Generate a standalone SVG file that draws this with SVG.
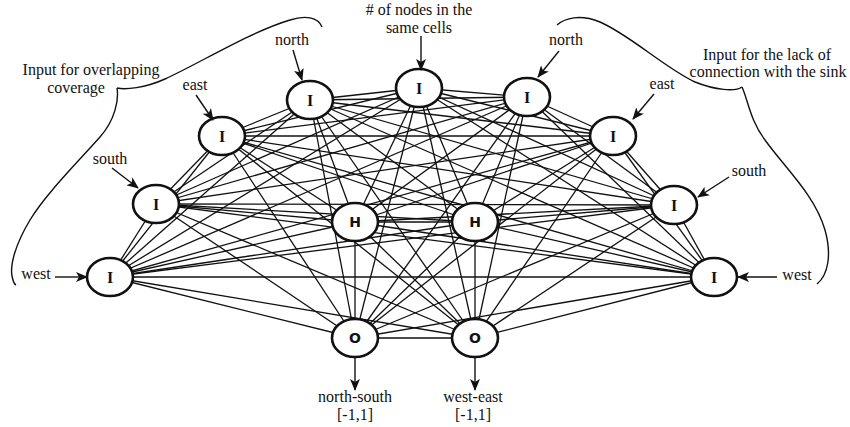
<svg xmlns="http://www.w3.org/2000/svg" width="850" height="427" viewBox="0 0 850 427">
  <style>
    .edge { stroke: #111; stroke-width: 1.3; fill: none; }
    .node ellipse { fill: #fff; stroke: #111; stroke-width: 2.6; }
    .lblI { font-family: 'Liberation Serif', 'Times New Roman', 'DejaVu Serif', 'Noto Serif', serif; font-weight: bold; font-size: 16px; fill: #111; text-anchor: middle; }
    .lblH { font-family: 'DejaVu Sans', sans-serif; font-weight: bold; font-size: 14px; fill: #111; text-anchor: middle; }
    .txt { font-family: 'Liberation Serif', 'Times New Roman', 'DejaVu Serif', 'Noto Serif', serif; font-size: 16px; fill: #111; text-anchor: middle; }
    .arrow { stroke: #111; stroke-width: 1.4; fill: none; marker-end: url(#head); }
    .brace { stroke: #111; stroke-width: 1.4; fill: none; }
  </style>
  <defs>
    <marker id="head" viewBox="0 0 12 10" refX="11" refY="5" markerWidth="12" markerHeight="10" markerUnits="userSpaceOnUse" orient="auto">
      <path d="M0,0 L12,5 L0,10 L3,5 z" fill="#111"/>
    </marker>
  </defs>
  <rect width="850" height="427" fill="#fff"/>

  <!-- connectors: every node is linked to every other node -->
  <g id="connectors" class="edge">
    <line x1="110" y1="277" x2="156" y2="204"/>
    <line x1="110" y1="277" x2="222" y2="136"/>
    <line x1="110" y1="277" x2="310" y2="100"/>
    <line x1="110" y1="277" x2="419" y2="88"/>
    <line x1="110" y1="277" x2="527" y2="97"/>
    <line x1="110" y1="277" x2="613" y2="136"/>
    <line x1="110" y1="277" x2="674" y2="205"/>
    <line x1="110" y1="277" x2="714" y2="277"/>
    <line x1="110" y1="277" x2="355" y2="222"/>
    <line x1="110" y1="277" x2="475" y2="222"/>
    <line x1="110" y1="277" x2="355" y2="338"/>
    <line x1="110" y1="277" x2="475" y2="338"/>
    <line x1="156" y1="204" x2="222" y2="136"/>
    <line x1="156" y1="204" x2="310" y2="100"/>
    <line x1="156" y1="204" x2="419" y2="88"/>
    <line x1="156" y1="204" x2="527" y2="97"/>
    <line x1="156" y1="204" x2="613" y2="136"/>
    <line x1="156" y1="204" x2="674" y2="205"/>
    <line x1="156" y1="204" x2="714" y2="277"/>
    <line x1="156" y1="204" x2="355" y2="222"/>
    <line x1="156" y1="204" x2="475" y2="222"/>
    <line x1="156" y1="204" x2="355" y2="338"/>
    <line x1="156" y1="204" x2="475" y2="338"/>
    <line x1="222" y1="136" x2="310" y2="100"/>
    <line x1="222" y1="136" x2="419" y2="88"/>
    <line x1="222" y1="136" x2="527" y2="97"/>
    <line x1="222" y1="136" x2="613" y2="136"/>
    <line x1="222" y1="136" x2="674" y2="205"/>
    <line x1="222" y1="136" x2="714" y2="277"/>
    <line x1="222" y1="136" x2="355" y2="222"/>
    <line x1="222" y1="136" x2="475" y2="222"/>
    <line x1="222" y1="136" x2="355" y2="338"/>
    <line x1="222" y1="136" x2="475" y2="338"/>
    <line x1="310" y1="100" x2="419" y2="88"/>
    <line x1="310" y1="100" x2="527" y2="97"/>
    <line x1="310" y1="100" x2="613" y2="136"/>
    <line x1="310" y1="100" x2="674" y2="205"/>
    <line x1="310" y1="100" x2="714" y2="277"/>
    <line x1="310" y1="100" x2="355" y2="222"/>
    <line x1="310" y1="100" x2="475" y2="222"/>
    <line x1="310" y1="100" x2="355" y2="338"/>
    <line x1="310" y1="100" x2="475" y2="338"/>
    <line x1="419" y1="88" x2="527" y2="97"/>
    <line x1="419" y1="88" x2="613" y2="136"/>
    <line x1="419" y1="88" x2="674" y2="205"/>
    <line x1="419" y1="88" x2="714" y2="277"/>
    <line x1="419" y1="88" x2="355" y2="222"/>
    <line x1="419" y1="88" x2="475" y2="222"/>
    <line x1="419" y1="88" x2="355" y2="338"/>
    <line x1="419" y1="88" x2="475" y2="338"/>
    <line x1="527" y1="97" x2="613" y2="136"/>
    <line x1="527" y1="97" x2="674" y2="205"/>
    <line x1="527" y1="97" x2="714" y2="277"/>
    <line x1="527" y1="97" x2="355" y2="222"/>
    <line x1="527" y1="97" x2="475" y2="222"/>
    <line x1="527" y1="97" x2="355" y2="338"/>
    <line x1="527" y1="97" x2="475" y2="338"/>
    <line x1="613" y1="136" x2="674" y2="205"/>
    <line x1="613" y1="136" x2="714" y2="277"/>
    <line x1="613" y1="136" x2="355" y2="222"/>
    <line x1="613" y1="136" x2="475" y2="222"/>
    <line x1="613" y1="136" x2="355" y2="338"/>
    <line x1="613" y1="136" x2="475" y2="338"/>
    <line x1="674" y1="205" x2="714" y2="277"/>
    <line x1="674" y1="205" x2="355" y2="222"/>
    <line x1="674" y1="205" x2="475" y2="222"/>
    <line x1="674" y1="205" x2="355" y2="338"/>
    <line x1="674" y1="205" x2="475" y2="338"/>
    <line x1="714" y1="277" x2="355" y2="222"/>
    <line x1="714" y1="277" x2="475" y2="222"/>
    <line x1="714" y1="277" x2="355" y2="338"/>
    <line x1="714" y1="277" x2="475" y2="338"/>
    <line x1="355" y1="222" x2="475" y2="222"/>
    <line x1="355" y1="222" x2="355" y2="338"/>
    <line x1="355" y1="222" x2="475" y2="338"/>
    <line x1="475" y1="222" x2="355" y2="338"/>
    <line x1="475" y1="222" x2="475" y2="338"/>
    <line x1="355" y1="338" x2="475" y2="338"/>
  </g>

  <!-- input nodes -->
  <g id="in-west-1" class="node"><ellipse cx="110" cy="277" rx="23" ry="19"/><text class="lblI" x="110" y="283">I</text></g>
  <g id="in-south-1" class="node"><ellipse cx="156" cy="204" rx="23" ry="19"/><text class="lblI" x="156" y="210">I</text></g>
  <g id="in-east-1" class="node"><ellipse cx="222" cy="136" rx="23" ry="19"/><text class="lblI" x="222" y="142">I</text></g>
  <g id="in-north-1" class="node"><ellipse cx="310" cy="100" rx="23" ry="19"/><text class="lblI" x="310" y="106">I</text></g>
  <g id="in-count" class="node"><ellipse cx="419" cy="88" rx="23" ry="19"/><text class="lblI" x="419" y="94">I</text></g>
  <g id="in-north-2" class="node"><ellipse cx="527" cy="97" rx="23" ry="19"/><text class="lblI" x="527" y="103">I</text></g>
  <g id="in-east-2" class="node"><ellipse cx="613" cy="136" rx="23" ry="19"/><text class="lblI" x="613" y="142">I</text></g>
  <g id="in-south-2" class="node"><ellipse cx="674" cy="205" rx="23" ry="19"/><text class="lblI" x="674" y="211">I</text></g>
  <g id="in-west-2" class="node"><ellipse cx="714" cy="277" rx="23" ry="19"/><text class="lblI" x="714" y="283">I</text></g>

  <!-- hidden nodes -->
  <g id="hidden-1" class="node"><ellipse cx="355" cy="222" rx="23" ry="19"/><text class="lblH" x="355" y="227">H</text></g>
  <g id="hidden-2" class="node"><ellipse cx="475" cy="222" rx="23" ry="19"/><text class="lblH" x="475" y="227">H</text></g>

  <!-- output nodes -->
  <g id="out-ns" class="node"><ellipse cx="355" cy="338" rx="23" ry="19"/><text class="lblH" x="355" y="343">O</text></g>
  <g id="out-we" class="node"><ellipse cx="475" cy="338" rx="23" ry="19"/><text class="lblH" x="475" y="343">O</text></g>

  <!-- input arrows and their labels -->
  <g id="input-labels">
    <text class="txt" x="36" y="279">west</text>
    <line class="arrow" x1="55" y1="277" x2="87" y2="277"/>
    <text class="txt" x="110" y="164">south</text>
    <line class="arrow" x1="112" y1="168" x2="138" y2="188"/>
    <text class="txt" x="195" y="90">east</text>
    <line class="arrow" x1="196" y1="95" x2="213" y2="120"/>
    <text class="txt" x="292" y="45">north</text>
    <line class="arrow" x1="293" y1="50" x2="302" y2="80"/>
    <text class="txt" x="419" y="15"># of nodes in the</text>
    <text class="txt" x="419" y="33">same cells</text>
    <line class="arrow" x1="421" y1="36" x2="421" y2="70"/>
    <text class="txt" x="566" y="45">north</text>
    <line class="arrow" x1="559" y1="51" x2="538" y2="77"/>
    <text class="txt" x="662" y="89">east</text>
    <line class="arrow" x1="654" y1="94" x2="633" y2="119"/>
    <text class="txt" x="749" y="176">south</text>
    <line class="arrow" x1="729" y1="177" x2="698" y2="197"/>
    <text class="txt" x="797" y="280">west</text>
    <line class="arrow" x1="777" y1="277" x2="738" y2="277"/>
  </g>

  <!-- output arrows and ranges -->
  <g id="output-labels">
    <line class="arrow" x1="355" y1="357" x2="355" y2="390"/>
    <text class="txt" x="355" y="402">north-south</text>
    <text class="txt" x="355" y="420">[-1,1]</text>
    <line class="arrow" x1="475" y1="357" x2="475" y2="390"/>
    <text class="txt" x="473" y="402">west-east</text>
    <text class="txt" x="473" y="420">[-1,1]</text>
  </g>

  <!-- grouping braces -->
  <g id="brace-left">
    <path class="brace" d="M117,88 C125,90 145,88 165,79 C200,63 250,32 290,20 C305,15 318,17 322,27"/>
    <path class="brace" d="M117,88 C119,100 115,120 100,137 C75,165 45,195 30,220 C15,245 10,265 12,276 C13,281 14,284 16,285"/>
    <text class="txt" x="91" y="75">Input for overlapping</text>
    <text class="txt" x="76" y="93">coverage</text>
  </g>
  <g id="brace-right">
    <path class="brace" d="M742,87 C735,92 715,90 695,82 C665,68 630,35 600,22 C580,14 565,18 557,25"/>
    <path class="brace" d="M742,87 C748,100 750,120 765,140 C785,168 815,195 825,230 C832,255 828,275 817,284"/>
    <text class="txt" x="767" y="60">Input for the lack of</text>
    <text class="txt" x="768" y="77">connection with the sink</text>
  </g>
</svg>
